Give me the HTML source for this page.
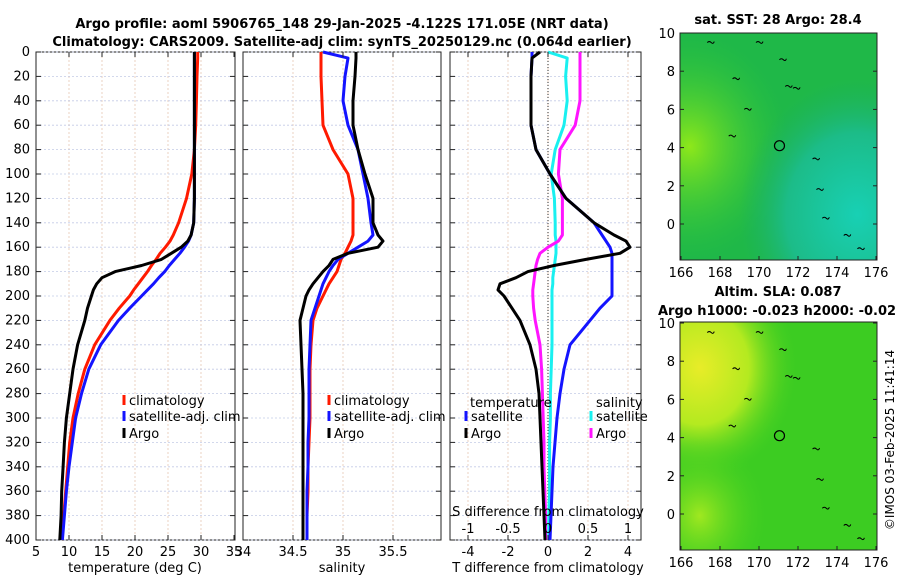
<!DOCTYPE html>
<html><head><meta charset="utf-8"><style>
body{margin:0;background:#fff;width:900px;height:580px;overflow:hidden}
svg{font-family:"DejaVu Sans","Liberation Sans",sans-serif}
</style></head><body>
<svg id="c" width="900" height="580" xmlns="http://www.w3.org/2000/svg">
<defs>
<radialGradient id="sstY" cx="0.05" cy="0.5" r="0.5"><stop offset="0" stop-color="#8ee81a"/><stop offset="1" stop-color="#30c83a" stop-opacity="0"/></radialGradient>
<radialGradient id="sstC" cx="0.9" cy="0.8" r="0.6"><stop offset="0" stop-color="#18d0b4"/><stop offset="0.6" stop-color="#1cbc88"/><stop offset="1" stop-color="#1cb060" stop-opacity="0"/></radialGradient>
<radialGradient id="slaY" cx="0.1" cy="0.2" r="0.5"><stop offset="0" stop-color="#e8ec28"/><stop offset="0.5" stop-color="#b4ea20"/><stop offset="1" stop-color="#40d020" stop-opacity="0"/></radialGradient>
<radialGradient id="slaY2" cx="0.1" cy="0.85" r="0.35"><stop offset="0" stop-color="#a0e820"/><stop offset="1" stop-color="#40d020" stop-opacity="0"/></radialGradient>
</defs>
<g id="plots"></g>
<text x="342" y="28" font-size="13" font-weight="bold" text-anchor="middle">Argo profile: aoml 5906765_148 29-Jan-2025 -4.122S 171.05E (NRT data)</text>
<text x="342" y="46" font-size="13" font-weight="bold" text-anchor="middle">Climatology: CARS2009. Satellite-adj clim: synTS_20250129.nc (0.064d earlier)</text>
<text x="778" y="24" font-size="13" font-weight="bold" text-anchor="middle">sat. SST: 28 Argo: 28.4</text>
<text x="778" y="296" font-size="13" font-weight="bold" text-anchor="middle">Altim. SLA: 0.087</text>
<text x="658" y="315" font-size="13" font-weight="bold">Argo h1000: -0.023 h2000: -0.02</text>
<text x="0" y="0" font-size="12" transform="translate(894,440) rotate(-90)" text-anchor="middle">©IMOS 03-Feb-2025 11:41:14</text>
</svg>
<script>
const depths=[0,5,20,40,60,80,100,120,140,150,155,160,165,170,175,180,185,190,195,200,210,220,240,260,280,300,320,340,360,380,400];
const tempClim=[29.5,29.5,29.4,29.3,29.2,29.0,28.6,27.8,26.6,25.8,25.3,24.6,23.8,23.2,22.5,21.9,21.2,20.5,19.8,19.2,17.6,16.2,13.9,12.4,11.4,10.6,10.1,9.8,9.5,9.2,8.9];
const tempSat=[29.0,29.0,29.0,29.0,29.0,29.0,29.0,29.0,28.9,28.5,28.1,27.5,26.8,26.0,25.2,24.5,23.6,22.8,21.9,21.0,19.2,17.5,14.8,13.0,11.9,11.0,10.5,10.0,9.6,9.3,9.0];
const tempArgo=[29.0,29.0,29.0,29.0,29.0,29.0,29.0,29.0,28.9,28.5,28.0,27.0,25.5,24.0,21.0,17.0,15.0,14.2,13.7,13.4,12.8,12.4,11.3,10.6,10.1,9.6,9.3,9.1,8.9,8.8,8.6];
const salClim=[34.78,34.78,34.78,34.79,34.8,34.9,35.05,35.1,35.1,35.1,35.08,35.05,35.02,34.98,34.96,34.94,34.9,34.86,34.83,34.8,34.74,34.7,34.68,34.67,34.67,34.67,34.66,34.65,34.65,34.64,34.64];
const salSat=[34.8,35.05,35.02,35.0,35.05,35.15,35.2,35.25,35.28,35.3,35.25,35.15,35.05,34.95,34.9,34.86,34.83,34.8,34.78,34.76,34.72,34.68,34.67,34.66,34.66,34.66,34.65,34.65,34.64,34.64,34.64];
const salArgo=[35.13,35.13,35.12,35.1,35.1,35.15,35.22,35.3,35.3,35.35,35.4,35.35,35.05,34.9,34.86,34.8,34.75,34.7,34.66,34.63,34.6,34.57,34.58,34.59,34.6,34.6,34.6,34.6,34.6,34.6,34.6];
const dTSat=[-0.8,-0.8,-0.85,-0.85,-0.85,-0.6,0.1,0.9,2.3,2.7,2.9,3.1,3.2,3.2,3.2,3.2,3.2,3.2,3.2,3.2,2.6,2.1,1.1,0.8,0.6,0.45,0.35,0.25,0.2,0.15,0.1];
const dTArgo=[-0.4,-0.8,-0.85,-0.85,-0.85,-0.6,0.1,0.9,2.3,3.3,3.9,4.1,3.6,1.9,0.3,-1.0,-1.6,-2.4,-2.5,-2.2,-1.8,-1.4,-0.9,-0.6,-0.45,-0.4,-0.35,-0.3,-0.25,-0.2,-0.15];
const dSSat=[0.0,0.24,0.22,0.24,0.2,0.09,0.04,0.08,0.09,0.09,0.1,0.1,0.1,0.09,0.08,0.07,0.06,0.06,0.05,0.05,0.05,0.05,0.05,0.04,0.03,0.03,0.02,0.02,0.02,0.01,0.01];
const dSArgo=[0.4,0.4,0.4,0.4,0.34,0.15,0.13,0.18,0.18,0.18,0.13,0.0,-0.1,-0.13,-0.15,-0.16,-0.17,-0.18,-0.19,-0.19,-0.18,-0.16,-0.1,-0.08,-0.07,-0.06,-0.05,-0.05,-0.04,-0.03,-0.03];
const depthTicks=[0,20,40,60,80,100,120,140,160,180,200,220,240,260,280,300,320,340,360,380,400];
const tempTicks=[5,10,15,20,25,30,35];
const salTicks=[34,34.5,35,35.5];
const salGrid=[34.5,35,35.5];
const dTTicks=[-4,-2,0,2,4];
const dSTicks=[-1,-0.5,0,0.5,1];
const lonTicks=[166,168,170,172,174,176];
const latTicks=[0,2,4,6,8,10];

const NS='http://www.w3.org/2000/svg';
const g=document.getElementById('plots');
function el(t,a,p){const e=document.createElementNS(NS,t);for(const k in a)e.setAttribute(k,a[k]);(p||g).appendChild(e);return e;}
const Y0=52,Y1=540;
const yD=d=>Y0+(d/400)*(Y1-Y0);
const xT=v=>36+(v-5)*(234-36)/30;
const xS=v=>243+(v-34)*100;
const xDT=v=>548+v*20;
const xDS=v=>548+v*80;

function frame(x0,x1,name){
  const r=el('rect',{x:x0,y:Y0,width:x1-x0,height:Y1-Y0,fill:'none',stroke:'#222','stroke-width':1});
  
  
  depthTicks.forEach(d=>{
    el('line',{x1:x0,x2:x1,y1:yD(d),y2:yD(d),stroke:'#c4cbe6','stroke-width':0.8,'stroke-dasharray':'2,2'});
    el('line',{x1:x0,x2:x0+5,y1:yD(d),y2:yD(d),stroke:'#222'});
    el('line',{x1:x1-5,x2:x1,y1:yD(d),y2:yD(d),stroke:'#222'});
  });
}
function vgrid(vals,fx,x0,x1){vals.forEach(v=>{const x=fx(v);if(x>x0+1&&x<x1-1)el('line',{x1:x,x2:x,y1:Y0,y2:Y1,stroke:'#e6c8b4','stroke-width':0.8,'stroke-dasharray':'2,2'});});}
function xlabels(vals,fx,y,name){vals.forEach(v=>{const t=el('text',{x:fx(v),y:y,'font-size':13,'text-anchor':'middle'});t.textContent=String(v);
  
  
  el('line',{x1:fx(v),x2:fx(v),y1:Y1,y2:Y1-5,stroke:'#222'});el('line',{x1:fx(v),x2:fx(v),y1:Y0,y2:Y0+5,stroke:'#222'});});}
function line(vals,fx,color,name,w){
  const p=el('polyline',{points:vals.map((v,i)=>fx(v).toFixed(1)+','+yD(depths[i]).toFixed(1)).join(' '),fill:'none',stroke:color,'stroke-width':w||3,'stroke-linejoin':'round'});
  
  
}
function legend(x,y,color,label,name){
  el('line',{x1:x,x2:x,y1:y-10,y2:y,stroke:color,'stroke-width':3});
  const t=el('text',{x:x+5,y:y,'font-size':13});t.textContent=label;
  
  
}
function label(x,y,txt,name,anchor){const t=el('text',{x:x,y:y,'font-size':13,'text-anchor':anchor||'middle'});t.textContent=txt;
  
  }

// panel 1
vgrid(tempTicks,xT,36,235);frame(36,235,'temperature-panel');
line(tempClim,xT,'#ff1a00','temp-climatology-line');
line(tempSat,xT,'#1414ff','temp-satellite-line');
line(tempArgo,xT,'#000','temp-argo-line');
depthTicks.forEach(d=>{const t=el('text',{x:30,y:yD(d)+4,'font-size':13,'text-anchor':'end'});t.textContent=d;
  
  });
xlabels(tempTicks,xT,556,'temp-tick-label');
legend(124,405,'#ff1a00','climatology','legend-climatology');
legend(124,421,'#1414ff','satellite-adj. clim','legend-satellite');
legend(124,438,'#000','Argo','legend-argo');
label(135,572,'temperature (deg C)','temperature-axis-title');

// panel 2
vgrid(salGrid,xS,243,441);frame(243,441,'salinity-panel');
line(salClim,xS,'#ff1a00','sal-climatology-line');
line(salSat,xS,'#1414ff','sal-satellite-line');
line(salArgo,xS,'#000','sal-argo-line');
xlabels(salTicks,xS,556,'salinity-tick-label');
legend(329,405,'#ff1a00','climatology','legend-sal-climatology');
legend(329,421,'#1414ff','satellite-adj. clim','legend-sal-satellite');
legend(329,438,'#000','Argo','legend-sal-argo');
label(342,572,'salinity','salinity-axis-title');

// panel 3
vgrid(dTTicks,xDT,450,641);frame(450,641,'difference-panel');
el('line',{x1:548,x2:548,y1:Y0,y2:Y1,stroke:'#333','stroke-width':1,'stroke-dasharray':'1,2'});
line(dSSat,xDS,'#19f0f0','sdiff-satellite-line');
line(dSArgo,xDS,'#ff14ff','sdiff-argo-line');
line(dTSat,xDT,'#1414ff','tdiff-satellite-line');
line(dTArgo,xDT,'#000','tdiff-argo-line');
xlabels(dTTicks,xDT,556,'tdiff-tick-label');
dSTicks.forEach(v=>{const t=el('text',{x:xDS(v),y:533,'font-size':13,'text-anchor':'middle'});t.textContent=String(v);
  
  });
label(470,407,'temperature','legend-temperature-header','start');
label(596,407,'salinity','legend-salinity-header','start');
legend(466,421,'#1414ff','satellite','legend-tdiff-satellite');
legend(466,438,'#000','Argo','legend-tdiff-argo');
legend(591,421,'#19f0f0','satellite','legend-sdiff-satellite');
legend(591,438,'#ff14ff','Argo','legend-sdiff-argo');
label(548,516,'S difference from climatology','sdiff-axis-title');
label(548,572,'T difference from climatology','tdiff-axis-title');

// maps
function map(top,bot,lat10y,lat0y,kind,name){
  const x0=680,x1=877;
  const r=el('rect',{x:x0,y:top,width:x1-x0,height:bot-top,fill:kind==='sst'?'#1fb848':'#3ccc22'});
  
  
  if(kind==='sst'){el('rect',{x:x0,y:top,width:x1-x0,height:bot-top,fill:'url(#sstY)'});el('rect',{x:x0,y:top,width:x1-x0,height:bot-top,fill:'url(#sstC)'});}
  else{el('rect',{x:x0,y:top,width:x1-x0,height:bot-top,fill:'url(#slaY)'});el('rect',{x:x0,y:top,width:x1-x0,height:bot-top,fill:'url(#slaY2)'});}
  el('rect',{x:x0,y:top,width:x1-x0,height:bot-top,fill:'none',stroke:'#222'});
  const xL=v=>681+(v-166)*19.5, yL=v=>lat0y+(lat10y-lat0y)*v/10;
  lonTicks.forEach(v=>{const t=el('text',{x:xL(v),y:bot+17,'font-size':13,'text-anchor':'middle'});t.textContent=v;
    
    
    el('line',{x1:xL(v),x2:xL(v),y1:bot,y2:bot-4,stroke:'#222'});});
  latTicks.forEach(v=>{const t=el('text',{x:675,y:yL(v)+5,'font-size':13,'text-anchor':'end'});t.textContent=v;
    
    
    el('line',{x1:x0,x2:x0+4,y1:yL(v),y2:yL(v),stroke:'#222'});el('line',{x1:x1-4,x2:x1,y1:yL(v),y2:yL(v),stroke:'#222'});});
  const c=el('circle',{cx:xL(171.05),cy:yL(4.1),r:5,fill:'none',stroke:'#000','stroke-width':1.2});
  
  
  [[167.5,9.5],[168.8,7.6],[171.2,8.6],[171.5,7.2],[171.9,7.1],[169.4,6.0],[172.9,3.4],[173.1,1.8],[173.4,0.3],[174.5,-0.6],[175.2,-1.3],[170.0,9.5],[168.6,4.6]].forEach(p=>{
    el('path',{d:`M${xL(p[0])-3},${yL(p[1])} q2,-2 4,0 q2,2 3,-1`,fill:'none',stroke:'#000','stroke-width':1});});
}
map(33,260,33,224,'sst','sst-map');
map(322,550,323,514,'sla','sla-map');
</script>
</body></html>
